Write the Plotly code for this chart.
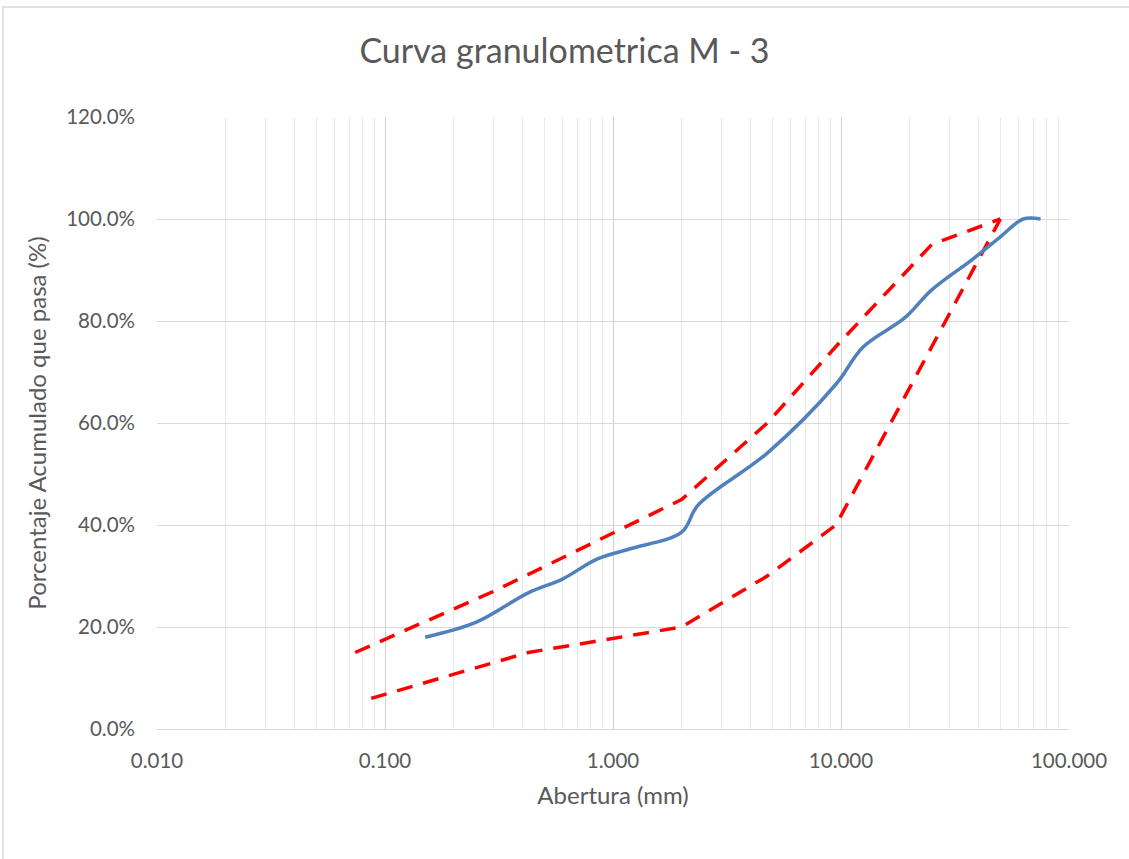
import plotly.graph_objects as go

# --- data ---
muestra_x = [0.15, 0.25, 0.425, 0.6, 0.85, 1.18, 2.0, 2.36, 4.75, 9.5, 12.5, 19.0, 25.0, 37.5, 50.0, 63.0, 75.0]
muestra_y = [0.180, 0.209, 0.267, 0.294, 0.333, 0.353, 0.386, 0.439, 0.541, 0.676, 0.749, 0.806, 0.861, 0.920, 0.965, 1.000, 1.000]

lim_sup_x = [0.074, 0.3, 2.0, 4.75, 9.5, 25.0, 50.0]
lim_sup_y = [0.15, 0.27, 0.45, 0.60, 0.75, 0.95, 1.00]

lim_inf_x = [0.087, 0.425, 2.0, 4.75, 9.5, 25.0, 50.0]
lim_inf_y = [0.06, 0.15, 0.20, 0.30, 0.40, 0.75, 1.00]

x_tickvals = [0.01, 0.1, 1, 10, 100]
x_ticktext = ["0.010", "0.100", "1.000", "10.000", "100.000"]

FONT = "Lato"
W, H = 1129, 859
L, R, T, B = 157, 60, 117, 130

fig = go.Figure()
fig.add_trace(go.Scatter(x=lim_sup_x, y=lim_sup_y, mode="lines",
                         line=dict(color="#ff0000", width=3.5, dash="16px,11px"),
                         showlegend=False))
fig.add_trace(go.Scatter(x=lim_inf_x, y=lim_inf_y, mode="lines",
                         line=dict(color="#ff0000", width=3.5, dash="16px,11px"),
                         showlegend=False))
fig.add_trace(go.Scatter(x=muestra_x, y=muestra_y, mode="lines",
                         line=dict(color="#4f81bd", width=3.5, shape="spline", smoothing=1.0),
                         showlegend=False))

minor_vals = [k * 10 ** e for e in range(-2, 2) for k in range(2, 10)]

pw = W - L - R
ph = H - T - B
fig.update_layout(
    width=W, height=H,
    margin=dict(l=L, r=R, t=T, b=B),
    paper_bgcolor="white", plot_bgcolor="white",
    font=dict(family=FONT, color="#595959"),
    title=dict(text="Curva granulometrica M - 3", x=0.5, xanchor="center",
               y=1 - 51 / H, yanchor="middle",
               font=dict(family=FONT, size=34, color="#595959")),
    xaxis=dict(type="log", range=[-2, 2], tickvals=x_tickvals, ticktext=x_ticktext,
               showgrid=True, gridcolor="#cfcfcf", gridwidth=1,
               minor=dict(tickvals=minor_vals, showgrid=True, gridcolor="#e8e8e8", gridwidth=1),
               showline=True, linecolor="#d9d9d9", linewidth=1,
               ticks="", ticklabelstandoff=13, zeroline=False,
               tickfont=dict(size=20.5, color="#595959"),
               title=dict(text="Abertura (mm)", font=dict(size=24, color="#595959"), standoff=16)),
    yaxis=dict(range=[0, 1.2], dtick=0.2, tickformat=".1%",
               showgrid=True, gridcolor="#d9d9d9", gridwidth=1, zeroline=False,
               showline=False, ticks="", ticklabelstandoff=21,
               tickfont=dict(size=20.5, color="#595959"),
               title=dict(text="Porcentaje Acumulado que pasa (%)", font=dict(size=24, color="#595959"), standoff=12)),
    shapes=[dict(type="rect", xref="paper", yref="paper",
                 x0=(3 - L) / pw, x1=(W + 10 - L) / pw,
                 y0=-(H + 10 - T - ph) / ph,
                 y1=1 + (T - 7) / ph,
                 line=dict(color="#d9d9d9", width=1.5), layer="below")],
)

fig.write_html("out.html")
